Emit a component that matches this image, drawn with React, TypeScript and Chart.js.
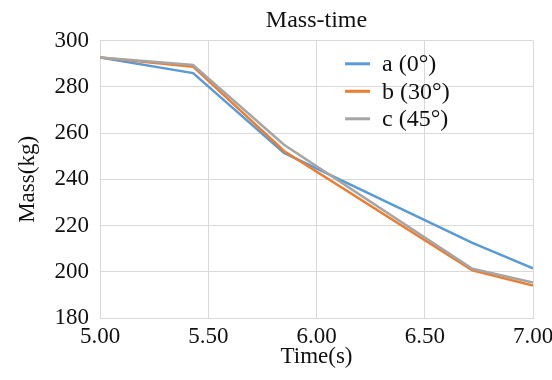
import React, { useEffect, useRef } from "react";
import { Chart, registerables } from "chart.js";

Chart.register(...registerables);

const times = [5.0, 5.43, 5.85, 6.72, 7.0];
const massA = [292.8, 286, 251.5, 212.5, 201.5];
const massB = [292.8, 288.8, 252.3, 200.6, 194];
const massC = [292.8, 289.5, 255, 201.3, 195.4];
const seriesLabels = ["a (0°)", "b (30°)", "c (45°)"];
const seriesColors = ["#5B9BD5", "#ED7D31", "#A5A5A5"];
const xTicksRange = { min: 5, max: 7, step: 0.5 };
const yTicksRange = { min: 180, max: 300, step: 20 };

const FONT = "'Liberation Serif', 'Times New Roman', serif";
const GRID = "#d9d9d9";

const legendPlugin = {
  id: "insideLegend",
  afterDraw(chart: any) {
    const { ctx, chartArea } = chart;
    const w = chartArea.right - chartArea.left;
    const x0 = chartArea.left + w * 0.566;
    const y0 = chartArea.top + 23;
    ctx.save();
    chart.data.datasets.forEach((ds: any, i: number) => {
      const y = y0 + i * 27.5;
      ctx.strokeStyle = ds.borderColor;
      ctx.lineWidth = 3;
      ctx.beginPath();
      ctx.moveTo(x0, y);
      ctx.lineTo(x0 + 25, y);
      ctx.stroke();
      ctx.fillStyle = "#111";
      ctx.font = `24px ${FONT}`;
      ctx.textBaseline = "middle";
      ctx.textAlign = "left";
      ctx.fillText(ds.label, x0 + 37, y + 1);
    });
    ctx.restore();
  },
};

export default function App() {
  const ref = useRef<HTMLCanvasElement>(null);
  useEffect(() => {
    if (!ref.current) return;
    const series = [massA, massB, massC];
    const chart = new Chart(ref.current, {
      type: "line",
      data: {
        datasets: series.map((vals, i) => ({
          label: seriesLabels[i],
          data: times.map((t, j) => ({ x: t, y: vals[j] })),
          borderColor: seriesColors[i],
          backgroundColor: seriesColors[i],
          borderWidth: 2.5,
          pointRadius: 0,
          tension: 0,
          order: 3 - i,
        })),
      },
      options: {
        responsive: false,
        animation: false,
        layout: { padding: { left: 0, right: 19, top: 0, bottom: 0 } },
        plugins: {
          legend: { display: false },
          tooltip: { enabled: false },
          title: {
            display: true,
            fullSize: false,
            text: "Mass-time",
            color: "#111",
            font: { family: FONT, size: 24, weight: "normal" },
            padding: { top: 6, bottom: 6 },
          },
        },
        scales: {
          x: {
            type: "linear",
            min: xTicksRange.min,
            max: xTicksRange.max,
            afterFit(scale: any) {
              scale.height = 62;
              scale.paddingLeft = 0;
              scale.paddingRight = 0;
            },
            ticks: {
              stepSize: xTicksRange.step,
              color: "#111",
              font: { family: FONT, size: 23 },
              padding: 5,
              maxRotation: 0,
              callback: (v: any) => Number(v).toFixed(2),
            },
            grid: { color: GRID, drawTicks: false, lineWidth: 1 },
            border: { color: GRID },
            title: {
              display: true,
              text: "Time(s)",
              color: "#111",
              font: { family: FONT, size: 23 },
              padding: { top: 0, bottom: 9 },
            },
          },
          y: {
            min: yTicksRange.min,
            max: yTicksRange.max,
            afterFit(scale: any) {
              scale.width = 100;
            },
            ticks: {
              stepSize: yTicksRange.step,
              color: "#111",
              font: { family: FONT, size: 23 },
              padding: 11,
            },
            grid: { color: GRID, drawTicks: false, lineWidth: 1 },
            border: { color: GRID },
            title: {
              display: true,
              text: "Mass(kg)",
              color: "#111",
              font: { family: FONT, size: 23 },
              padding: { top: 14, bottom: 0 },
            },
          },
        },
      },
      plugins: [legendPlugin],
    });
    return () => chart.destroy();
  }, []);
  return (
    <div style={{ position: "absolute", left: 0, top: 0, width: 552, height: 380, background: "#fff" }}>
      <canvas ref={ref} width={552} height={380} />
    </div>
  );
}
